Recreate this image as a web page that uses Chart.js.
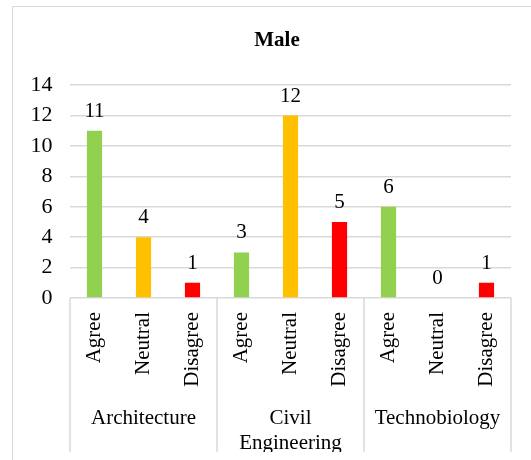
<!DOCTYPE html>
<html>
<head>
<meta charset="utf-8">
<script src="https://cdn.jsdelivr.net/npm/chart.js@4/dist/chart.umd.min.js"></script>
<style>
    body { margin: 0; background: #fff; overflow: hidden; }
    .frame { position: absolute; left: 12px; top: 6px; width: 700px; height: 700px;
             border-left: 1.5px solid #d9d9d9; border-top: 1.5px solid #d9d9d9; }
    #maleChart { position: absolute; left: 0; top: 0; }
</style>
</head>
<body>
<div class="frame"></div>
<canvas id="maleChart" width="531" height="460"></canvas>
<script>
const responses = ['Agree', 'Neutral', 'Disagree'];
const departments = ['Architecture', ['Civil', 'Engineering'], 'Technobiology'];
const architecture = [11, 4, 1];
const civilEngineering = [3, 12, 5];
const technobiology = [6, 0, 1];
const responseColors = ['#92d050', '#ffc000', '#ff0000'];
const yTicks = { min: 0, max: 14, step: 2 };

const FONT = 'Liberation Serif';
const GRID = '#d9d9d9';

// one bar per (department, response) pair
const labels = [].concat(responses, responses, responses);
const values = [].concat(architecture, civilEngineering, technobiology);
const colors = [].concat(responseColors, responseColors, responseColors);

// valeurs au-dessus des barres
const valueLabels = {
    id: 'valueLabels',
    afterDatasetsDraw(chart) {
        const ctx = chart.ctx;
        const meta = chart.getDatasetMeta(0);
        ctx.save();
        ctx.font = `21px "${FONT}"`;
        ctx.fillStyle = '#000';
        ctx.textAlign = 'center';
        ctx.textBaseline = 'alphabetic';
        meta.data.forEach((bar, i) => {
            ctx.fillText(String(values[i]), bar.x, bar.y - 14);
        });
        ctx.restore();
    }
};

// separators between the department groups, under the axis
const groupLines = {
    id: 'groupLines',
    afterDraw(chart) {
        const x = chart.scales.x;
        const x2 = chart.scales.x2;
        const per = responses.length;
        const edges = [x.left];
        for (let g = 1; g < departments.length; g++) {
            edges.push((x.getPixelForTick(g * per - 1) + x.getPixelForTick(g * per)) / 2);
        }
        edges.push(x.right);
        const ctx = chart.ctx;
        ctx.save();
        ctx.strokeStyle = GRID;
        ctx.lineWidth = 1.5;
        edges.forEach(px => {
            ctx.beginPath();
            ctx.moveTo(px, chart.chartArea.bottom);
            ctx.lineTo(px, x2.bottom);
            ctx.stroke();
        });
        ctx.restore();
    }
};

new Chart(document.getElementById('maleChart').getContext('2d'), {
    type: 'bar',
    data: {
        labels: labels,
        datasets: [{
            data: values,
            backgroundColor: colors,
            borderWidth: 0,
            barPercentage: 0.31,
            categoryPercentage: 1
        }]
    },
    options: {
        responsive: false,
        animation: false,
        layout: { padding: { left: 23, right: 0, top: 0, bottom: 8 } },
        plugins: {
            legend: { display: false },
            tooltip: { enabled: false },
            title: {
                display: true,
                text: 'Male',
                color: '#000',
                font: { family: FONT, size: 21, weight: 'bold' },
                padding: { top: 28, bottom: 32 }
            }
        },
        scales: {
            y: {
                min: yTicks.min,
                max: yTicks.max,
                ticks: {
                    stepSize: yTicks.step,
                    color: '#000',
                    padding: 17.5,
                    font: { family: FONT, size: 22 }
                },
                grid: { color: GRID, lineWidth: 1.5, drawTicks: false },
                border: { display: false },
                afterFit(scale) { scale.width = 47; }
            },
            // empty right margin so the title centres on the whole chart box
            yRight: {
                type: 'linear',
                position: 'right',
                ticks: { display: false },
                grid: { display: false },
                border: { display: false },
                afterFit(scale) { scale.width = 20; }
            },
            x: {
                weight: 0,
                ticks: {
                    autoSkip: false,
                    maxRotation: 90,
                    minRotation: 90,
                    padding: 6,
                    color: '#000',
                    font: { family: FONT, size: 21 }
                },
                grid: { display: false },
                border: { display: false },
                afterFit(scale) { scale.height = 95; }
            },
            x2: {
                type: 'category',
                position: 'bottom',
                weight: 1,
                offset: true,
                labels: departments,
                ticks: {
                    autoSkip: false,
                    maxRotation: 0,
                    padding: 5,
                    color: '#000',
                    font: { family: FONT, size: 21, lineHeight: 1.2 }
                },
                grid: { display: false },
                border: { display: false },
                afterFit(scale) { scale.height = 59; }
            }
        }
    },
    plugins: [valueLabels, groupLines]
});
</script>
</body>
</html>
